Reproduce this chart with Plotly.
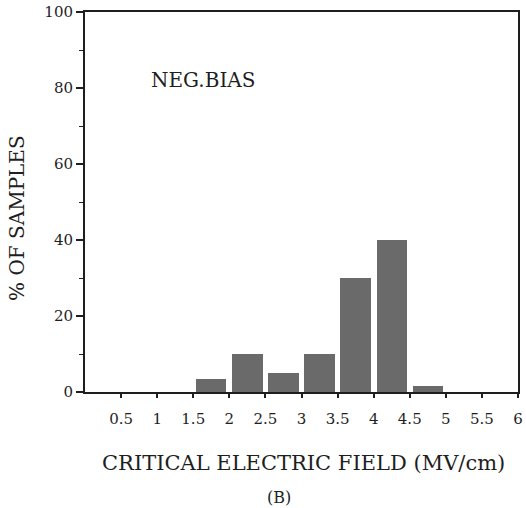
import plotly.graph_objects as go

# Bins of critical electric field (MV/cm): lower edge, upper edge
bin_lo = [0.0, 0.5, 1.0, 1.5, 2.0, 2.5, 3.0, 3.5, 4.0, 4.5, 5.0, 5.5]
bin_hi = [0.5, 1.0, 1.5, 2.0, 2.5, 3.0, 3.5, 4.0, 4.5, 5.0, 5.5, 6.0]
pct_samples = [0, 0, 0, 3.3, 10, 5, 10, 30, 40, 1.7, 0, 0]

tick_vals = [0.5, 1, 1.5, 2, 2.5, 3, 3.5, 4, 4.5, 5, 5.5, 6]
tick_text = ["0.5", "1", "1.5", "2", "2.5", "3", "3.5", "4", "4.5", "5", "5.5", "6"]
y_ticks = [0, 20, 40, 60, 80, 100]

centers = [(a + b) / 2 for a, b in zip(bin_lo, bin_hi)]
widths = [(b - a) * 0.84 for a, b in zip(bin_lo, bin_hi)]

FONT = "DejaVu Serif"
INK = "#1e1e1e"

fig = go.Figure()
fig.add_trace(go.Bar(
    x=centers, y=pct_samples, width=widths,
    marker=dict(color="#6a6a6a", line=dict(width=0)),
    showlegend=False,
))

fig.update_layout(
    width=526, height=508,
    margin=dict(l=85, r=3, t=12, b=116),
    paper_bgcolor="white", plot_bgcolor="white",
    font=dict(family=FONT, color=INK, size=15),
    bargap=0,
)
fig.update_xaxes(
    range=[0, 6], tickvals=tick_vals, ticktext=tick_text,
    ticks="outside", ticklen=4, tickwidth=1.5, tickcolor=INK,
    ticklabelstandoff=8,
    showline=True, linewidth=2, linecolor=INK, mirror=True,
    showgrid=False, zeroline=False,
    tickfont=dict(family=FONT, size=15, color=INK),
)
fig.update_yaxes(
    range=[0, 100], tickvals=y_ticks,
    ticks="outside", ticklen=7, tickwidth=1.5, tickcolor=INK,
    minor=dict(dtick=10, ticks="outside", ticklen=4, tickwidth=1.2, tickcolor=INK, showgrid=False),
    showline=True, linewidth=2, linecolor=INK, mirror=True,
    showgrid=False, zeroline=False,
    tickfont=dict(family=FONT, size=15, color=INK),
)

fig.add_annotation(text="CRITICAL ELECTRIC FIELD (MV/cm)", xref="paper", yref="paper",
                   x=0.505, y=-0.187, xanchor="center", yanchor="middle", showarrow=False,
                   font=dict(family=FONT, size=21, color=INK))
fig.add_annotation(text="(B)", xref="paper", yref="paper",
                   x=0.447, y=-0.278, xanchor="center", yanchor="middle", showarrow=False,
                   font=dict(family=FONT, size=16, color=INK))
fig.add_annotation(text="% OF SAMPLES", xref="paper", yref="paper",
                   x=-0.157, y=0.458, xanchor="center", yanchor="middle", showarrow=False,
                   textangle=-90, font=dict(family=FONT, size=20, color=INK))
fig.add_annotation(text="NEG.BIAS", xref="paper", yref="paper",
                   x=0.148, y=0.82, xanchor="left", yanchor="middle", showarrow=False,
                   font=dict(family=FONT, size=20, color=INK))

fig.write_html("out.html")
